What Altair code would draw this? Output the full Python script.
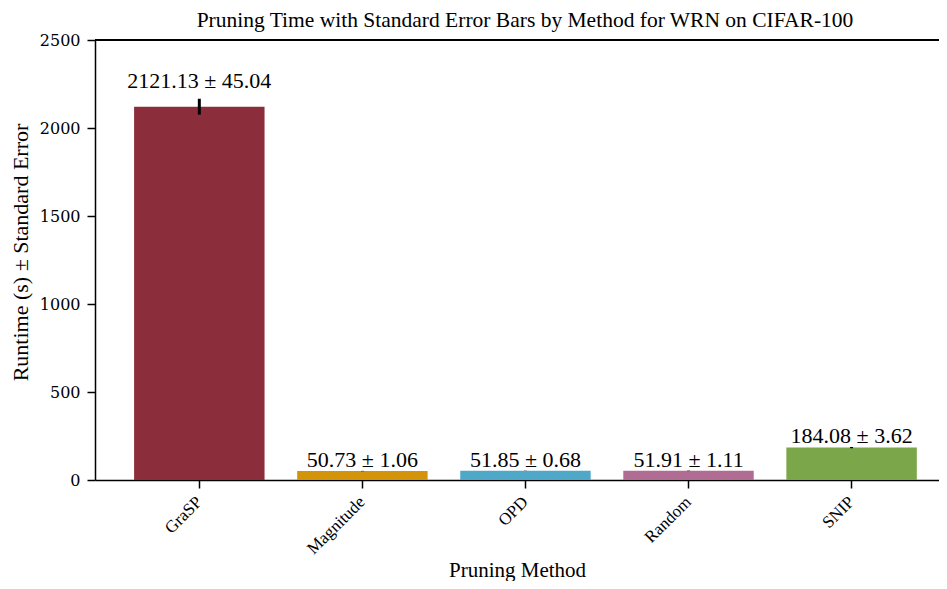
import altair as alt
import pandas as pd

methods = ["GraSP", "Magnitude", "OPD", "Random", "SNIP"]
means = [2121.13, 50.73, 51.85, 51.91, 184.08]
ses = [45.04, 1.06, 0.68, 1.11, 3.62]
colors = ["#8B2D3A", "#D4940A", "#4FA8C8", "#B06C93", "#7CA64A"]
y_ticks = [0, 500, 1000, 1500, 2000, 2500]
title_text = "Pruning Time with Standard Error Bars by Method for WRN on CIFAR-100"

df = pd.DataFrame({"method": methods, "mean": means, "se": ses})
df["label"] = [f"{m:.2f} ± {s:.2f}" for m, s in zip(means, ses)]

FONT = "Liberation Serif"
W, H = 844, 440

x_enc = alt.X(
    "method:N",
    sort=methods,
    scale=alt.Scale(paddingInner=0.2, paddingOuter=0.1879, align=0.638),
    axis=alt.Axis(
        title="Pruning Method",
        labelAngle=315,
        labelAlign="right",
        labelBaseline="middle",
        labelPadding=11,
        labelFontSize=17,
        titleFontSize=21,
        titleY=96,
        titleBaseline="alphabetic",
    ),
)
y_scale = alt.Scale(domain=[0, 2500], nice=False, zero=True)

bars = alt.Chart(df).mark_bar().encode(
    x=x_enc,
    y=alt.Y(
        "mean:Q",
        scale=y_scale,
        axis=alt.Axis(
            title="Runtime (s) ± Standard Error",
            values=y_ticks,
            format="d",
            labelFont="DejaVu Serif",
            labelFontSize=16,
            labelPadding=7,
            titleFontSize=22,
            titleX=-68,
            titleY=212,
            titleAlign="center",
            titleBaseline="alphabetic",
            grid=False,
        ),
    ),
    color=alt.Color("method:N", scale=alt.Scale(domain=methods, range=colors), legend=None),
)

err = alt.Chart(df).transform_calculate(
    lo="datum.mean - datum.se", hi="datum.mean + datum.se"
).mark_rule(color="black", strokeWidth=3).encode(
    x=alt.X("method:N", sort=methods),
    y=alt.Y("lo:Q", scale=y_scale),
    y2="hi:Q",
)

labels = alt.Chart(df).transform_calculate(
    ly="(datum.mean + datum.se) * 1.02 + 20"
).mark_text(font=FONT, fontSize=22, color="black", baseline="alphabetic").encode(
    x=alt.X("method:N", sort=methods),
    y=alt.Y("ly:Q", scale=y_scale),
    text="label:N",
)

top_spine = alt.Chart(df).mark_rule(color="black", strokeWidth=1.5).encode(
    x=alt.value(0), x2=alt.value(W + 20), y=alt.value(0)
)

title = alt.Chart(pd.DataFrame({"t": [title_text]})).mark_text(
    font=FONT, fontSize=21.5, color="black", baseline="alphabetic", align="center"
).encode(x=alt.value(430), y=alt.value(-13.5), text="t:N")

chart = alt.layer(bars, err, labels, top_spine, title).properties(
    width=W,
    height=H,
    autosize=alt.AutoSizeParams(type="none"),
    padding={"left": 87, "top": 32, "right": 0, "bottom": 101},
).configure_view(
    stroke=None
).configure_axis(
    labelFont=FONT,
    titleFont=FONT,
    labelColor="black",
    titleColor="black",
    titleFontWeight="normal",
    domainColor="black",
    domainWidth=1.5,
    tickColor="black",
    tickWidth=1.5,
    tickSize=8,
)

chart.save("out.html", embed_options={"renderer": "svg", "actions": False})
